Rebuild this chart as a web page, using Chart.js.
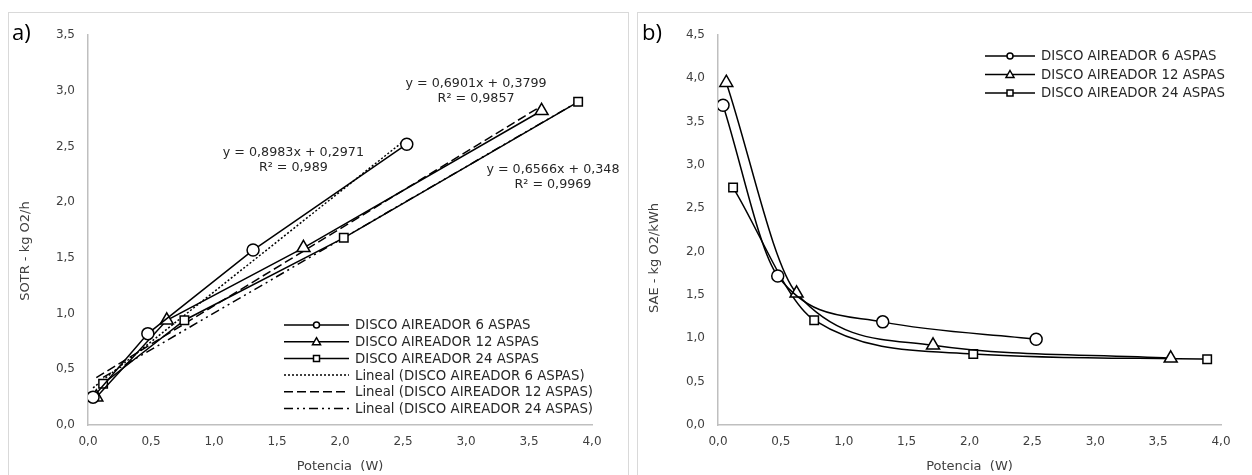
<!DOCTYPE html>
<html>
<head>
<meta charset="utf-8">
<script src="https://cdn.jsdelivr.net/npm/chart.js@4.4.1/dist/chart.umd.min.js"></script>
<style>
  body { margin: 0; background: #fff; width: 1252px; height: 475px; overflow: hidden; position: relative; }
  .panel { position: absolute; top: 12px; height: 470px; border: 1px solid #d9d9d9; box-sizing: border-box; }
  #pa { left: 8px; width: 621px; }
  #pb { left: 637px; width: 630px; }
  canvas { position: absolute; left: 0; top: 0; }
</style>
</head>
<body>
<div class="panel" id="pa"><canvas id="chartA" width="620" height="463"></canvas></div>
<div class="panel" id="pb"><canvas id="chartB" width="615" height="463"></canvas></div>
<script>
// series names
var names = ["DISCO AIREADOR 6 ASPAS", "DISCO AIREADOR 12 ASPAS", "DISCO AIREADOR 24 ASPAS"];
var markers = ["circle", "triangle", "rect"];

// potencia (W) for each aerator
var pot6 = [0.04, 0.475, 1.31, 2.53];
var pot12 = [0.066, 0.625, 1.71, 3.6];
var pot24 = [0.12, 0.765, 2.03, 3.89];

// SOTR - kg O2/h
var sotr6 = [0.25, 0.82, 1.57, 2.52];
var sotr12 = [0.25, 0.94, 1.59, 2.82];
var sotr24 = [0.37, 0.94, 1.68, 2.90];

// SAE - kg O2/kWh
var sae6 = [3.69, 1.72, 1.19, 0.99];
var sae12 = [3.95, 1.52, 0.92, 0.77];
var sae24 = [2.74, 1.21, 0.82, 0.76];

// linear trendlines shown on chart a)
var slopes = [0.8983, 0.6901, 0.6566];
var intercepts = [0.2971, 0.3799, 0.348];
var eqTexts = [["y = 0,8983x + 0,2971", "R\u00b2 = 0,989"],
               ["y = 0,6901x + 0,3799", "R\u00b2 = 0,9857"],
               ["y = 0,6566x + 0,348", "R\u00b2 = 0,9969"]];
var eqPos = [[1.63, 2.44], [3.08, 3.06], [3.69, 2.29]];

var dashes = [[2, 2], [9, 4], [9, 4, 2, 4, 2, 4]];
var FONT = "'DejaVu Sans', Verdana, sans-serif";

function pts(xs, ys) {
  var out = [];
  for (var i = 0; i < xs.length; i++) out.push({x: xs[i], y: ys[i]});
  return out;
}
function trend(xs, k) {
  var a = xs[0], b = xs[xs.length - 1];
  return [{x: a, y: slopes[k] * a + intercepts[k]}, {x: b, y: slopes[k] * b + intercepts[k]}];
}
function comma(v) { return v.toFixed(1).replace(".", ","); }

function seriesDs(label, data, marker, smooth) {
  var d = {
    label: label, data: data, showLine: true,
    borderColor: "#000", borderWidth: 1.5, backgroundColor: "#fff",
    pointStyle: marker, pointRadius: marker == "triangle" ? 7.5 : 6,
    pointBorderColor: "#000", pointBackgroundColor: "#fff", pointBorderWidth: 1.5
  };
  if (smooth) d.cubicInterpolationMode = "monotone";
  return d;
}

function scales(ymax, padLeft) {
  return {
    x: {
      type: "linear", min: 0, max: 4,
      border: {color: "#bfbfbf", width: 1.5},
      grid: {display: false, drawTicks: false},
      ticks: {stepSize: 0.5, padding: 10, color: "#404040", font: {family: FONT, size: 12}, callback: comma},
      afterFit: function(s) { s.height = 51; }
    },
    y: {
      type: "linear", min: 0, max: ymax,
      border: {color: "#bfbfbf", width: 1.5},
      grid: {display: false, drawTicks: false},
      ticks: {stepSize: 0.5, padding: 13, color: "#404040", font: {family: FONT, size: 12}, callback: comma},
      afterFit: function(s) { s.width = padLeft; }
    }
  };
}

function drawMarker(ctx, style, x, y, r) {
  ctx.beginPath();
  if (style == "circle") ctx.arc(x, y, r, 0, Math.PI * 2);
  else if (style == "rect") ctx.rect(x - r, y - r, 2 * r, 2 * r);
  else { ctx.moveTo(x, y - r - 1); ctx.lineTo(x + r + 1, y + r); ctx.lineTo(x - r - 1, y + r); ctx.closePath(); }
  ctx.fillStyle = "#fff"; ctx.fill();
  ctx.lineWidth = 1.5; ctx.strokeStyle = "#000"; ctx.stroke();
}

// custom legend + labels + axis titles
function extras(opts) {
  return {
    id: "extras",
    afterDraw: function(chart) {
      var ctx = chart.ctx, a = chart.chartArea;
      ctx.save();
      // panel letter
      ctx.fillStyle = "#000";
      ctx.font = "22px 'Open Sans', sans-serif";
      ctx.textAlign = "left"; ctx.textBaseline = "middle";
      ctx.fillText(opts.letter, opts.letterX, 21);
      // axis titles
      ctx.fillStyle = "#404040";
      ctx.font = "13px " + FONT;
      ctx.textAlign = "center";
      ctx.fillText("Potencia  (W)", (a.left + a.right) / 2, 454);
      ctx.save();
      ctx.translate(opts.yTitleX, opts.yTitleY);
      ctx.rotate(-Math.PI / 2);
      ctx.fillText(opts.yTitle, 0, 0);
      ctx.restore();
      // trendline equations
      if (opts.eq) {
        var xs = chart.scales.x, ys = chart.scales.y;
        ctx.fillStyle = "#262626";
        ctx.font = "12.7px " + FONT;
        for (var i = 0; i < eqTexts.length; i++) {
          var px = xs.getPixelForValue(eqPos[i][0]), py = ys.getPixelForValue(eqPos[i][1]);
          ctx.fillText(eqTexts[i][0], px, py);
          ctx.fillText(eqTexts[i][1], px, py + 15);
        }
      }
      // legend
      ctx.font = "13.3px " + FONT;
      ctx.textAlign = "left";
      var rows = opts.legend;
      for (var j = 0; j < rows.length; j++) {
        var y = opts.legY + j * opts.legStep, x0 = opts.legX, L = opts.legLine;
        ctx.strokeStyle = "#000"; ctx.lineWidth = 1.5;
        ctx.setLineDash(rows[j].dash || []);
        ctx.beginPath(); ctx.moveTo(x0, y); ctx.lineTo(x0 + L, y); ctx.stroke();
        ctx.setLineDash([]);
        if (rows[j].marker) drawMarker(ctx, rows[j].marker, x0 + L / 2, y, 3);
        ctx.fillStyle = "#262626";
        ctx.fillText(rows[j].text, x0 + L + 6, y + 1);
      }
      ctx.restore();
    }
  };
}

// chart a) SOTR
var dsA = [
  seriesDs(names[0], pts(pot6, sotr6), markers[0], false),
  seriesDs(names[1], pts(pot12, sotr12), markers[1], false),
  seriesDs(names[2], pts(pot24, sotr24), markers[2], false)
];
var pots = [pot6, pot12, pot24];
for (var k = 0; k < 3; k++) {
  dsA.push({
    label: "Lineal (" + names[k] + ")", data: trend(pots[k], k), showLine: true,
    borderColor: "#000", borderWidth: 1.5, borderDash: dashes[k], pointRadius: 0
  });
}
var legA = [];
for (var m = 0; m < 3; m++) legA.push({text: names[m], marker: markers[m]});
for (var m = 0; m < 3; m++) legA.push({text: "Lineal (" + names[m] + ")", dash: dashes[m]});

new Chart(document.getElementById("chartA"), {
  type: "scatter",
  data: {datasets: dsA},
  options: {
    responsive: false, animation: false,
    layout: {padding: {left: 0, top: 22, right: 37, bottom: 0}},
    plugins: {legend: {display: false}, tooltip: {enabled: false}},
    scales: scales(3.5, 79)
  },
  plugins: [extras({letter: "a)", letterX: 3, yTitle: "SOTR - kg O2/h", yTitleX: 17, yTitleY: 238,
    eq: true, legend: legA, legX: 275, legY: 312, legStep: 16.7, legLine: 65})]
});

// chart b) SAE
var dsB = [
  seriesDs(names[0], pts(pot6, sae6), markers[0], true),
  seriesDs(names[1], pts(pot12, sae12), markers[1], true),
  seriesDs(names[2], pts(pot24, sae24), markers[2], true)
];
var legB = [];
for (var n = 0; n < 3; n++) legB.push({text: names[n], marker: markers[n]});

new Chart(document.getElementById("chartB"), {
  type: "scatter",
  data: {datasets: dsB},
  options: {
    responsive: false, animation: false,
    layout: {padding: {left: 0, top: 22, right: 32, bottom: 0}},
    plugins: {legend: {display: false}, tooltip: {enabled: false}},
    scales: scales(4.5, 80)
  },
  plugins: [extras({letter: "b)", letterX: 4, yTitle: "SAE - kg O2/kWh", yTitleX: 17, yTitleY: 245,
    eq: false, legend: legB, legX: 347, legY: 43, legStep: 18.5, legLine: 50})]
});
</script>
</body>
</html>
